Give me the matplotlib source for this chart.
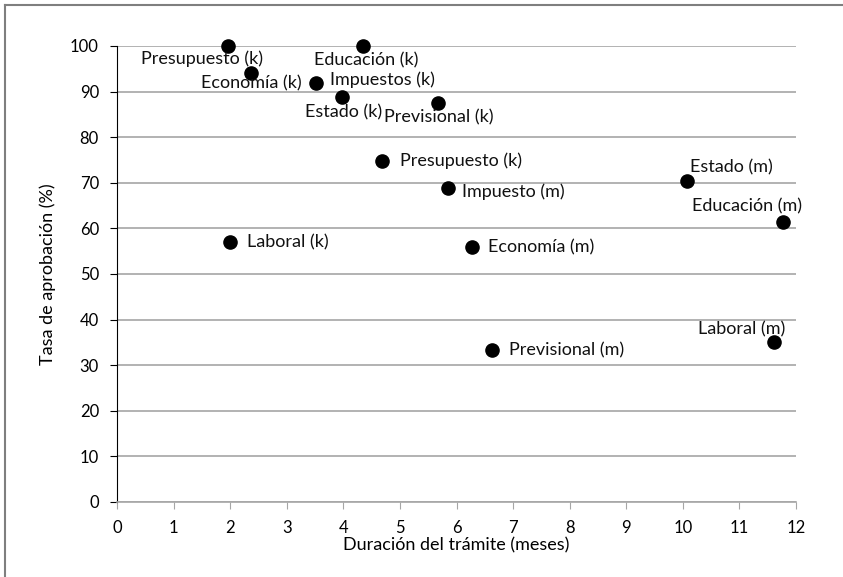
import matplotlib.pyplot as plt
from matplotlib.lines import Line2D

plt.rcParams['font.family'] = ['Lato', 'DejaVu Sans']

# data
labels = ['Presupuesto (k)', 'Educación (k)', 'Economía (k)', 'Impuestos (k)',
          'Estado (k)', 'Previsional (k)', 'Presupuesto (k)', 'Impuesto (m)',
          'Economía (m)', 'Previsional (m)', 'Laboral (k)', 'Estado (m)',
          'Educación (m)', 'Laboral (m)']
duracion = [1.96, 4.35, 2.37, 3.52, 3.98, 5.67, 4.68, 5.85, 6.27, 6.63, 2.0,
            10.07, 11.77, 11.61]
tasa = [100, 100, 94.0, 91.9, 88.8, 87.5, 74.8, 68.9, 55.9, 33.3, 57.0, 70.4,
        61.4, 35.1]

# label placement: offset in points, horizontal alignment
placement = [((-19, -9), 'center'), ((2, -10), 'center'), ((0, -7), 'center'),
             ((10, 2), 'left'), ((1, -11), 'center'), ((1, -10), 'center'),
             ((13, 0), 'left'), ((10, -3), 'left'), ((12, 0), 'left'),
             ((12, 0), 'left'), ((12, 0), 'left'), ((2, 10), 'left'),
             ((14, 11), 'right'), ((8, 9), 'right')]

fig = plt.figure(figsize=(8.43, 5.77), dpi=100)
ax = fig.add_axes([117 / 843, 75 / 577, 679 / 843, 456 / 577])

ax.scatter(duracion, tasa, s=90, color='black', zorder=3, clip_on=False)
for lab, x, y, (off, ha) in zip(labels, duracion, tasa, placement):
    ax.annotate(lab, (x, y), xytext=off, textcoords='offset points',
                ha=ha, va='center', fontsize=13, color='#111111')

ax.set_xlim(0, 12)
ax.set_ylim(0, 100)
ax.set_xticks(range(0, 13))
ax.set_yticks(range(0, 101, 10))
ax.yaxis.grid(True, color='#a6a6a6', lw=1.2)
ax.set_axisbelow(True)

for s in ['top', 'right']:
    ax.spines[s].set_visible(False)
ax.spines['left'].set_color('black')
ax.spines['bottom'].set_color('#a6a6a6')
ax.spines['bottom'].set_linewidth(1.2)
ax.tick_params(axis='y', direction='out', length=5, color='black',
               labelsize=12, pad=8)
ax.tick_params(axis='x', direction='out', length=5, color='#a6a6a6',
               labelsize=12, pad=8)

ax.set_xlabel('Duración del trámite (meses)', fontsize=13, labelpad=1)
ax.set_ylabel('Tasa de aprobación (%)', fontsize=13, labelpad=10)

# outer frame (top and left edges visible)
fig.add_artist(Line2D([5 / 843, 5 / 843], [0, 1 - 5 / 577],
                      transform=fig.transFigure, color='#7f7f7f', lw=1.5))
fig.add_artist(Line2D([5 / 843, 1], [1 - 5 / 577, 1 - 5 / 577],
                      transform=fig.transFigure, color='#7f7f7f', lw=1.5))

fig.savefig('out.png', dpi=100)
